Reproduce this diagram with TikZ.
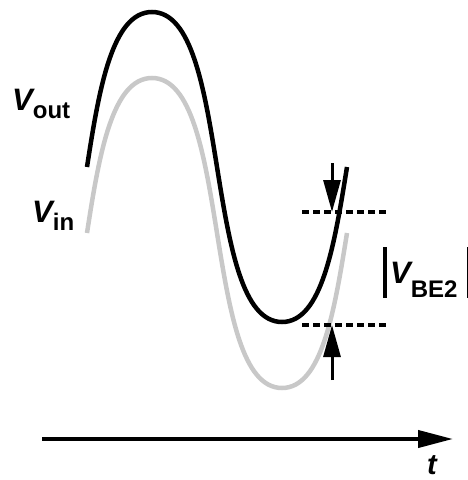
\documentclass[tikz,border=0pt]{standalone}
\usepackage{fontspec}
\setmainfont{Liberation Sans}
\usetikzlibrary{arrows.meta}
\definecolor{ingray}{RGB}{200,200,200}
\newcommand{\sig}[3]{{\fontsize{31}{31}\selectfont\bfseries\itshape #1}\raisebox{-#3}{\fontsize{24}{24}\selectfont\bfseries #2}}

\begin{document}
\begin{tikzpicture}[x=1pt,y=-1pt,
  wave/.style={line width=4.5pt},
  outwave/.style={wave, black},
  inwave/.style={wave, ingray},
  level/.style={line width=3.5pt, dash pattern=on 7pt off 4pt},
  marker/.style={line width=3pt, -{Triangle[length=32pt,width=17pt]}},
  axis/.style={line width=4pt, -{Triangle[length=35pt,width=17pt]}},
  txt/.style={inner sep=0pt, anchor=base west}]
  \useasboundingbox (0,0) rectangle (467,480);
  % waveforms
  \draw[inwave] (87,233) .. controls (99,155.5) and (112,78) .. (152,78)
    .. controls (232,78) and (202,388) .. (282,388)
    .. controls (322,388) and (334.5,310.5) .. (347,233);
  \draw[outwave] (87,167) .. controls (99,89.5) and (112,12) .. (152,12)
    .. controls (232,12) and (202,322) .. (282,322)
    .. controls (322,322) and (334.5,244.5) .. (347,167);
  \node[txt] (vout) at (12,110) {\sig{V}{out}{8pt}};
  \node[txt] (vin) at (32,222) {\sig{V}{in}{8pt}};
  % levels and markers
  \coordinate (hiL) at (302,212);
  \coordinate (hiR) at (388,212);
  \coordinate (loL) at (302,325);
  \coordinate (loR) at (388,325);
  \coordinate (hiA) at (332,163);
  \coordinate (hiB) at (332,212);
  \coordinate (loA) at (332,380);
  \coordinate (loB) at (332,325);
  \draw[level] (hiL) -- (hiR);
  \draw[level] (loL) -- (loR);
  \draw[marker] (hiA) -- (hiB);
  \draw[marker] (loA) -- (loB);
  \draw[line width=3.5pt] (385,247) -- (385,298);
  \draw[line width=3.5pt] (468.5,247) -- (468.5,298);
  \node[txt] (vbe) at (390,283) {\sig{V}{BE2}{14pt}};
  % time axis
  \coordinate (t0) at (42,439);
  \coordinate (t1) at (453,439);
  \draw[axis] (t0) -- (t1);
  \node[txt] (tlab) at (427,474) {\fontsize{29}{29}\selectfont\bfseries\itshape t};
\end{tikzpicture}
\end{document}
